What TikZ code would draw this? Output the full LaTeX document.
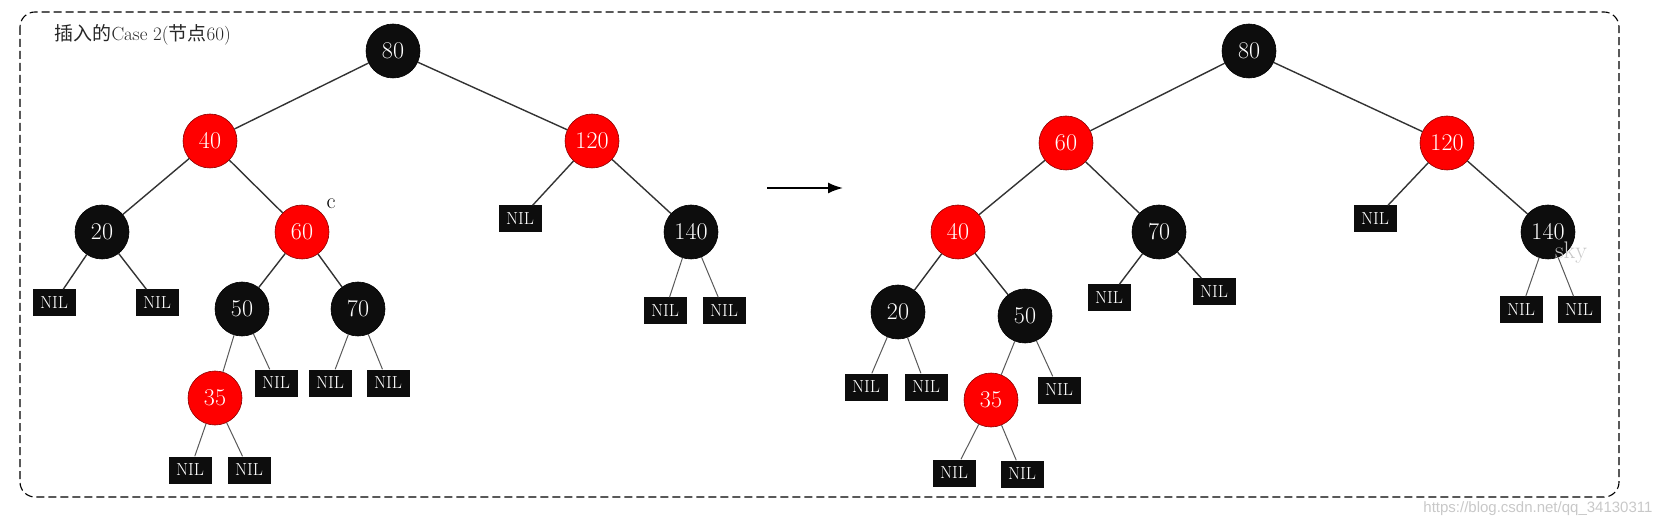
\documentclass[tikz,border=0pt]{standalone}
\usepackage{fontspec}
\newfontfamily\cjk{Noto Sans CJK SC}
\newfontfamily\urlfont{Liberation Sans}
\usetikzlibrary{arrows.meta}
\definecolor{nodeblack}{HTML}{0D0D0D}
\definecolor{nodered}{HTML}{FF0000}
\definecolor{edgegray}{HTML}{333333}
\definecolor{wmgray}{HTML}{C8C8C8}
\tikzset{
  rb/.style={circle, minimum size=54pt, inner sep=0pt, text=white,
             font=\fontsize{24}{24}\selectfont},
  rednode/.style={rb, fill=nodered, draw=red!55!black, line width=0.6pt},
  blknode/.style={rb, fill=nodeblack, draw=black, line width=0.6pt},
  nilbox/.style={rectangle, fill=nodeblack, text=white, minimum width=43pt,
                 minimum height=27pt, inner sep=0pt, font=\fontsize{17.5}{17.5}\selectfont},
  edge/.style={draw=edgegray, line width=1.4pt},
  niledge/.style={draw=black!65, line width=1pt},
}
\begin{document}
\begin{tikzpicture}[x=1pt, y=-1pt]
\useasboundingbox (0,0) rectangle (1664,526);
% frame
\draw[dashed, dash pattern=on 8pt off 4pt, line width=1.1pt, rounded corners=15pt]
  (20,12) rectangle (1619,497);
\node[anchor=west, font=\fontsize{19}{19}\selectfont, text=black!85] (title) at (51,35)
  {{\cjk 插入的}Case 2({\cjk 节点}60)};

% ---------- left tree ----------
\node[blknode] (L80) at (393,51) {80};
\node[rednode] (L40) at (210,141) {40};
\node[rednode] (L120) at (592,141) {120};
\node[blknode] (L20) at (102,232) {20};
\node[rednode] (L60) at (302,232) {60};
\node[font=\fontsize{22}{22}\selectfont] (Lc) at (331,204) {c};
\node[nilbox] (LN120) at (520,219) {NIL};
\node[blknode] (L140) at (691,232) {140};
\node[nilbox] (LN20a) at (54,303) {NIL};
\node[nilbox] (LN20b) at (157,303) {NIL};
\node[blknode] (L50) at (242,309) {50};
\node[blknode] (L70) at (358,309) {70};
\node[nilbox] (LN140a) at (665,311) {NIL};
\node[nilbox] (LN140b) at (724,311) {NIL};
\node[rednode] (L35) at (215,398) {35};
\node[nilbox] (LN50) at (276,383) {NIL};
\node[nilbox] (LN70a) at (330,383) {NIL};
\node[nilbox] (LN70b) at (388,383) {NIL};
\node[nilbox] (LN35a) at (190,470) {NIL};
\node[nilbox] (LN35b) at (249,470) {NIL};

\draw[edge] (L80) -- (L40);
\draw[edge] (L80) -- (L120);
\draw[edge] (L40) -- (L20);
\draw[edge] (L40) -- (L60);
\draw[edge] (L120) -- (LN120);
\draw[edge] (L120) -- (L140);
\draw[edge] (L20) -- (LN20a);
\draw[edge] (L20) -- (LN20b);
\draw[edge] (L60) -- (L50);
\draw[edge] (L60) -- (L70);
\draw[niledge] (L140) -- (LN140a);
\draw[niledge] (L140) -- (LN140b);
\draw[niledge] (L50) -- (L35);
\draw[niledge] (L50) -- (LN50);
\draw[niledge] (L70) -- (LN70a);
\draw[niledge] (L70) -- (LN70b);
\draw[niledge] (L35) -- (LN35a);
\draw[niledge] (L35) -- (LN35b);

% arrow
\coordinate (A1) at (767,188);
\coordinate (A2) at (843,188);
\draw[line width=2pt, -{Latex[length=15pt,width=11pt]}] (A1) -- (A2);

% ---------- right tree ----------
\node[blknode] (R80) at (1249,51) {80};
\node[rednode] (R60) at (1066,143) {60};
\node[rednode] (R120) at (1447,143) {120};
\node[rednode] (R40) at (958,232) {40};
\node[blknode] (R70) at (1159,232) {70};
\node[nilbox] (RN120) at (1375,219) {NIL};
\node[blknode] (R140) at (1548,232) {140};
\node[nilbox] (RN70a) at (1109,298) {NIL};
\node[nilbox] (RN70b) at (1214,292) {NIL};
\node[blknode] (R20) at (898,312) {20};
\node[blknode] (R50) at (1025,316) {50};
\node[nilbox] (RN140a) at (1521,310) {NIL};
\node[nilbox] (RN140b) at (1579,310) {NIL};
\node[nilbox] (RN20a) at (866,387) {NIL};
\node[nilbox] (RN20b) at (926,387) {NIL};
\node[rednode] (R35) at (991,400) {35};
\node[nilbox] (RN50) at (1059,390) {NIL};
\node[nilbox] (RN35a) at (954,473) {NIL};
\node[nilbox] (RN35b) at (1022,474) {NIL};

\draw[edge] (R80) -- (R60);
\draw[edge] (R80) -- (R120);
\draw[edge] (R60) -- (R40);
\draw[edge] (R60) -- (R70);
\draw[edge] (R120) -- (RN120);
\draw[edge] (R120) -- (R140);
\draw[edge] (R40) -- (R20);
\draw[edge] (R40) -- (R50);
\draw[edge] (R70) -- (RN70a);
\draw[edge] (R70) -- (RN70b);
\draw[niledge] (R140) -- (RN140a);
\draw[niledge] (R140) -- (RN140b);
\draw[niledge] (R20) -- (RN20a);
\draw[niledge] (R20) -- (RN20b);
\draw[niledge] (R50) -- (R35);
\draw[niledge] (R50) -- (RN50);
\draw[niledge] (R35) -- (RN35a);
\draw[niledge] (R35) -- (RN35b);

% watermarks
\node[text=wmgray, font=\fontsize{24}{24}\selectfont] (wm1) at (1571,253) {sky};
\node[anchor=east, text=wmgray, font=\urlfont\fontsize{15}{15}\selectfont] (wm2) at (1656,509) {https://blog.csdn.net/qq\_34130311};
\end{tikzpicture}
\end{document}
